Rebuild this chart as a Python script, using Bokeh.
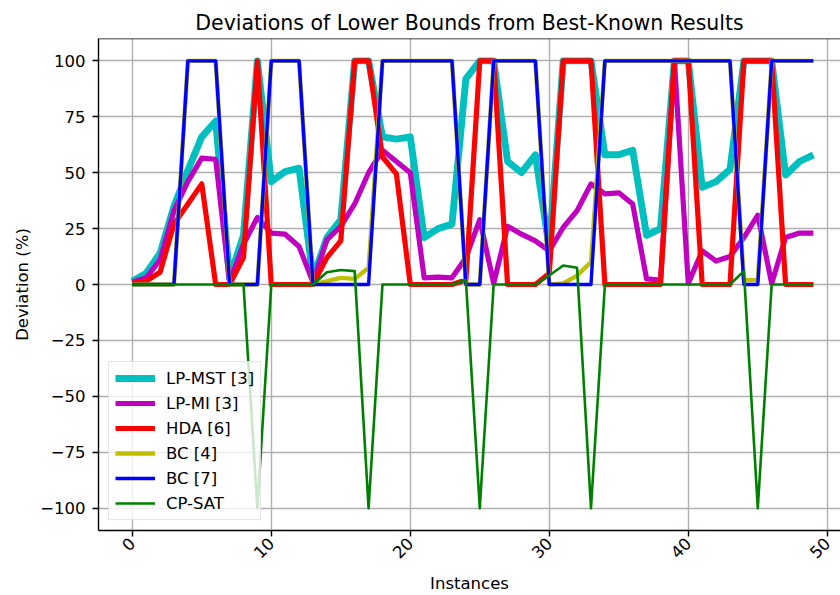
import math
from bokeh.plotting import figure
from bokeh.models import Range1d, FixedTicker, Legend, LegendItem, Span
from bokeh.embed import file_html
from bokeh.resources import INLINE

instances = list(range(50))

lp_mst = [1.5, 5, 14, 35, 51, 66, 73, 3, 22, 100,
          46, 50.5, 52, 3, 21, 29, 100, 100, 66, 65,
          66, 21, 25, 27, 92, 100, 100, 55, 50, 58,
          16, 100, 100, 100, 58, 58, 60, 22, 25, 100,
          100, 43.5, 46, 51.5, 100, 100, 100, 49, 55, 58]

lp_mi = [1, 3, 11, 33, 46, 56.5, 56, 1, 18, 30,
         23, 22.5, 17, 1, 20, 26, 36, 50, 60, 55,
         50, 3, 3.3, 3, 12, 29, 0.5, 26, 22.5, 19.5,
         15, 25.5, 33, 45, 40.5, 41, 36, 2.5, 2, 100,
         0.5, 15, 10.5, 12.5, 21, 31, 0.5, 21, 23, 23]

hda = [0.5, 1.5, 5.5, 27, 36, 45, 0, 0, 12, 100,
       0, 0, 0, 0, 12, 19.5, 100, 100, 57, 49.5,
       0, 0, 0, 0, 2, 100, 100, 0, 0, 0,
       5, 100, 100, 100, 0, 0, 0, 0, 0, 100,
       100, 0, 0, 0, 100, 100, 100, 0, 0, 0]

bc4 = [0, 0, 0, 0, 100, 100, 100, 0, 0, 0,
       100, 100, 100, 0, 1.5, 3, 2.5, 7.5, 100, 100,
       100, 100, 100, 100, 0, 0, 100, 100, 100, 100,
       0, 0.5, 4, 10, 100, 100, 100, 100, 100, 100,
       100, 100, 100, 100, 2, 2, 100, 100, 100, 100]

bc7 = [0, 0, 0, 0, 100, 100, 100, 0, 0, 0,
       100, 100, 100, 0, 0, 0, 0, 0, 100, 100,
       100, 100, 100, 100, 0, 0, 100, 100, 100, 100,
       0, 0, 0, 0, 100, 100, 100, 100, 100, 100,
       100, 100, 100, 100, 0, 0, 100, 100, 100, 100]

cp_sat = [0, 0, 0, 0, 0, 0, 0, 0, 0, -100,
          0, 0, 0, 0, 5.5, 6.5, 6, -100, 0, 0,
          0, 0, 0, 0, 2, -100, 0, 0, 0, 0,
          4, 8.5, 7.5, -100, 0, 0, 0, 0, 0, 0,
          0, 0, 0, 0, 6, -100, 0, 0, 0, 0]

series_names = ["LP-MST [3]", "LP-MI [3]", "HDA [6]", "BC [4]", "BC [7]", "CP-SAT"]
series_values = [lp_mst, lp_mi, hda, bc4, bc7, cp_sat]

x_ticks = [0, 10, 20, 30, 40, 50]
x_tick_labels = ["0", "10", "20", "30", "40", "50"]
y_ticks = [-100, -75, -50, -25, 0, 25, 50, 75, 100]
y_tick_labels = ["\u2212100", "\u221275", "\u221250", "\u221225", "0", "25", "50", "75", "100"]

title_text = "Deviations of Lower Bounds from Best-Known Results"
x_label = "Instances"
y_label = "Deviation (%)"

styles = [("#00bfbf", 6.9), ("#bf00bf", 5.2), ("#ff0000", 5.2),
          ("#bfbf00", 4.3), ("#0000ff", 3.4), ("#008000", 2.6)]

FONT = "DejaVu Sans"

p = figure(width=840, height=595, output_backend="svg", toolbar_location=None,
           x_range=Range1d(-2.43, 50.95), y_range=Range1d(-110, 110),
           min_border_left=98, min_border_right=0, min_border_top=38,
           min_border_bottom=65, title=title_text)

p.background_fill_color = "white"
p.border_fill_color = "white"
p.outline_line_color = None

p.title.text_font = FONT
p.title.text_font_size = "20.5px"
p.title.text_font_style = "normal"
p.title.text_color = "black"
p.title.align = "center"
p.title.offset = 3
p.title.standoff = 8

for ax in (p.xaxis[0], p.yaxis[0]):
    ax.axis_line_color = "black"
    ax.axis_line_width = 1.4
    ax.major_tick_line_color = "black"
    ax.major_tick_line_width = 1.4
    ax.major_tick_out = 6
    ax.major_tick_in = 0
    ax.minor_tick_line_color = None
    ax.major_label_text_font = FONT
    ax.major_label_text_font_size = "16.5px"
    ax.major_label_text_color = "black"
    ax.axis_label_text_font = FONT
    ax.axis_label_text_font_size = "16.5px"
    ax.axis_label_text_font_style = "normal"
    ax.axis_label_text_color = "black"

p.xaxis.ticker = FixedTicker(ticks=x_ticks)
p.xaxis.major_label_overrides = dict(zip(x_ticks, x_tick_labels))
p.xaxis.major_label_orientation = math.pi / 4
p.xaxis.major_label_standoff = 4
p.xaxis.axis_label = x_label
p.xaxis.axis_label_standoff = 7

p.yaxis.ticker = FixedTicker(ticks=y_ticks)
p.yaxis.major_label_overrides = dict(zip(y_ticks, y_tick_labels))
p.yaxis.major_label_standoff = 7
p.yaxis.axis_label = y_label
p.yaxis.axis_label_standoff = 5

p.xgrid.ticker = FixedTicker(ticks=x_ticks)
p.ygrid.ticker = FixedTicker(ticks=y_ticks)
for g in (p.xgrid[0], p.ygrid[0]):
    g.grid_line_color = "#b0b0b0"
    g.grid_line_width = 1.4

top_spine = Span(location=110, dimension="width", line_color="black", line_width=1.4)
p.add_layout(top_spine)

items = []
for name, vals, (color, lw) in zip(series_names, series_values, styles):
    r = p.line(instances, vals, line_color=color, line_width=lw,
               line_join="round", line_cap="butt")
    items.append(LegendItem(label=name, renderers=[r]))

legend = Legend(items=items, location="bottom_left")
legend.label_text_font = FONT
legend.label_text_font_size = "16.5px"
legend.label_text_color = "black"
legend.glyph_width = 40
legend.glyph_height = 20
legend.label_height = 20
legend.label_standoff = 11
legend.spacing = 5
legend.padding = 6
legend.margin = 10
legend.background_fill_color = "white"
legend.background_fill_alpha = 0.8
legend.border_line_color = "#cccccc"
legend.border_line_width = 1.4
p.add_layout(legend)

open("out.html", "w").write(file_html(p, INLINE))
